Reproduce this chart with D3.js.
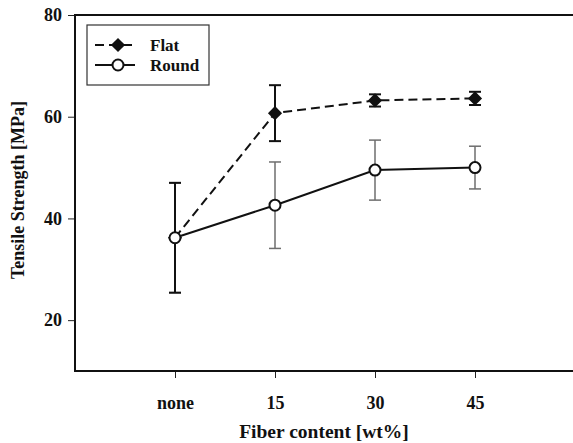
<!DOCTYPE html>
<html>
<head>
<meta charset="utf-8">
<script src="https://cdn.jsdelivr.net/npm/d3@7"></script>
<style>
  body { margin: 0; background: #fff; }
  svg text { font-family: "Liberation Serif", "Times New Roman", serif; font-weight: bold; fill: #111; }
</style>
</head>
<body>
<div id="chart"></div>
<script>
// categories along x (index positions 1..4 on a 0..5 axis)
const categories = ["none", "15", "30", "45"];
const flatMean = [36.2, 60.7, 63.2, 63.6];
const flatErr = [10.8, 5.5, 1.2, 1.3];
const roundMean = [36.2, 42.6, 49.5, 50.0];
const roundErr = [10.8, 8.5, 5.9, 4.2];
const yTicks = [20, 40, 60, 80];
const seriesNames = ["Flat", "Round"];

const W = 573, H = 443;
const margin = {top: 15, left: 75, bottom: 72, right: -2};

const svg = d3.select("#chart").append("svg")
    .attr("width", W)
    .attr("height", H);

const x = d3.scaleLinear()
    .domain([0, 5])
    .range([margin.left, W - margin.right]);

const y = d3.scaleLinear()
    .domain([10, 80])
    .range([H - margin.bottom, margin.top]);

// axes
const xAxis = d3.axisBottom(x)
    .tickValues(categories.map((c, i) => i + 1))
    .tickFormat((d) => categories[d - 1])
    .tickSize(7)
    .tickPadding(18);

const yAxis = d3.axisLeft(y)
    .tickValues(yTicks)
    .tickSize(7)
    .tickPadding(6);

const gx = svg.append("g")
    .attr("transform", `translate(0,${y(10)})`)
    .call(xAxis);
gx.select(".domain").remove();
gx.selectAll(".tick line").attr("stroke", "#222").attr("stroke-width", 1);
gx.selectAll(".tick text")
    .style("font-size", "18px")
    .style("font-family", "Liberation Serif")
    .style("font-weight", "bold")
    .attr("fill", "#111");

const gy = svg.append("g")
    .attr("transform", `translate(${x(0)},0)`)
    .call(yAxis);
gy.select(".domain").remove();
gy.selectAll(".tick line").attr("stroke", "#222").attr("stroke-width", 1);
gy.selectAll(".tick text")
    .style("font-size", "18px")
    .style("font-family", "Liberation Serif")
    .style("font-weight", "bold")
    .attr("fill", "#111");

// frame
svg.append("rect")
    .attr("x", x(0))
    .attr("y", y(80))
    .attr("width", x(5) - x(0))
    .attr("height", y(10) - y(80))
    .attr("fill", "none")
    .attr("stroke", "#111")
    .attr("stroke-width", 2);

// axis titles
svg.append("text")
    .attr("x", 324)
    .attr("y", 438)
    .attr("text-anchor", "middle")
    .style("font-size", "19.5px")
    .text("Fiber content [wt%]");

svg.append("text")
    .attr("transform", "translate(24,190) rotate(-90)")
    .attr("text-anchor", "middle")
    .style("font-size", "18px")
    .text("Tensile Strength [MPa]");

const capW = 6;

function errorBars(means, errs, color, width) {
    const g = svg.append("g");
    means.forEach((m, i) => {
        const cx = x(i + 1);
        g.append("line")
            .attr("x1", cx).attr("x2", cx)
            .attr("y1", y(m + errs[i])).attr("y2", y(m - errs[i]))
            .attr("stroke", color).attr("stroke-width", width);
        [m + errs[i], m - errs[i]].forEach(v => {
            g.append("line")
                .attr("x1", cx - capW).attr("x2", cx + capW)
                .attr("y1", y(v)).attr("y2", y(v))
                .attr("stroke", color).attr("stroke-width", width);
        });
    });
}

errorBars(roundMean, roundErr, "#6e6e6e", 1.5);
errorBars(flatMean, flatErr, "#111", 2);

const line = d3.line()
    .x((d, i) => x(i + 1))
    .y(d => y(d));

svg.append("path")
    .datum(roundMean)
    .attr("d", line)
    .attr("fill", "none")
    .attr("stroke", "#111")
    .attr("stroke-width", 2);

svg.append("path")
    .datum(flatMean)
    .attr("d", line)
    .attr("fill", "none")
    .attr("stroke", "#111")
    .attr("stroke-width", 2)
    .attr("stroke-dasharray", "9,5");

const diamond = d3.symbol().type(d3.symbolSquare).size(100);

svg.selectAll(".flat-pt")
    .data(flatMean)
    .enter().append("path")
    .attr("class", "flat-pt")
    .attr("d", diamond)
    .attr("transform", (d, i) => `translate(${x(i + 1)},${y(d)}) rotate(45)`)
    .attr("fill", "#111");

svg.selectAll(".round-pt")
    .data(roundMean)
    .enter().append("circle")
    .attr("class", "round-pt")
    .attr("cx", (d, i) => x(i + 1))
    .attr("cy", d => y(d))
    .attr("r", 5.5)
    .attr("fill", "#fff")
    .attr("stroke", "#111")
    .attr("stroke-width", 2);

// legend
const lg = svg.append("g");
lg.append("rect")
    .attr("x", 87).attr("y", 25)
    .attr("width", 122).attr("height", 60)
    .attr("fill", "#fff")
    .attr("stroke", "#333")
    .attr("stroke-width", 1.2);

seriesNames.forEach((name, i) => {
    const ly = 45 + i * 20;
    lg.append("line")
        .attr("x1", 95).attr("x2", 135)
        .attr("y1", ly).attr("y2", ly)
        .attr("stroke", "#111")
        .attr("stroke-width", 2)
        .attr("stroke-dasharray", i === 0 ? "9,5" : null);
    if (i === 0) {
        lg.append("path")
            .attr("d", diamond)
            .attr("transform", `translate(118,${ly}) rotate(45)`)
            .attr("fill", "#111");
    } else {
        lg.append("circle")
            .attr("cx", 118).attr("cy", ly).attr("r", 5.5)
            .attr("fill", "#fff").attr("stroke", "#111").attr("stroke-width", 2);
    }
    lg.append("text")
        .attr("x", 150).attr("y", ly + 6)
        .style("font-size", "17px")
        .text(name);
});
</script>
</body>
</html>
